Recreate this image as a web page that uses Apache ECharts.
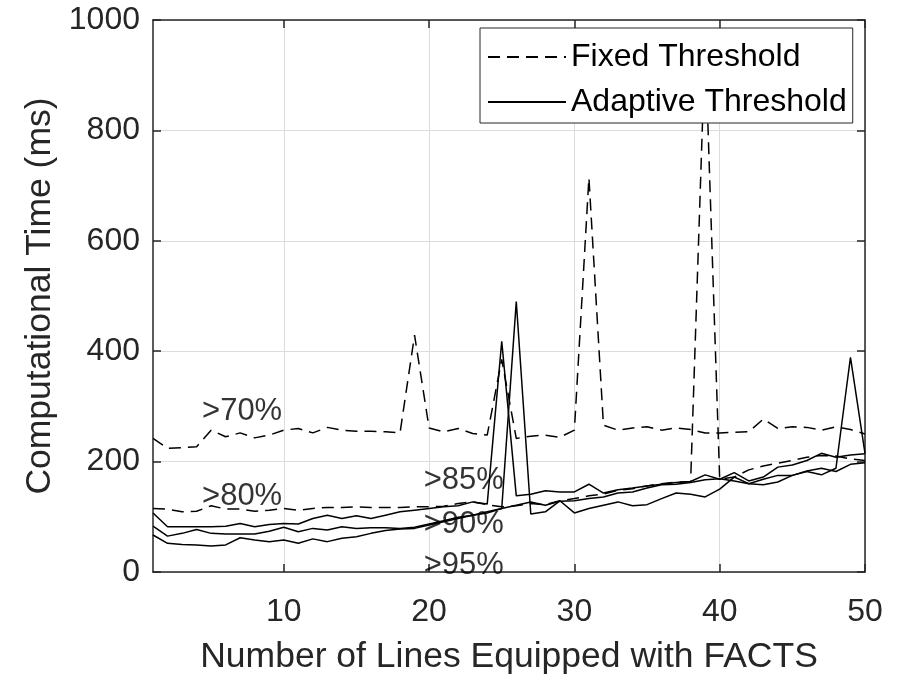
<!DOCTYPE html>
<html><head><meta charset="utf-8">
<script src="https://cdn.jsdelivr.net/npm/echarts@6/dist/echarts.min.js"></script>
<style>html,body{margin:0;padding:0;background:#fff}#c{width:897px;height:674px}</style>
</head><body><div id="c"></div>
<script>
const linesEquipped = [1,2,3,4,5,6,7,8,9,10,11,12,13,14,15,16,17,18,19,20,21,22,23,24,25,26,27,28,29,30,31,32,33,34,35,36,37,38,39,40,41,42,43,44,45,46,47,48,49,50];
const fixed70 = [242,224,225,227,257,245,252,243,248,257,260,252,262,257,255,255,254,252,429,261,254,260,251,248,385,242,246,248,244,257,714,266,257,261,263,257,261,258,252,252,253,254,277,260,263,262,257,263,258,250];
const fixed80 = [115,114,109,110,120,114,114,110,112,115,112,115,117,117,118,117,117,117,118,118,119,124,127,122,118,120,124,122,129,133,138,141,148,151,156,160,163,164,960,168,172,185,192,197,202,208,211,210,205,202];
const adaptive85 = [107,82,82,82,82,83,88,82,86,88,87,97,103,97,102,97,103,109,112,115,118,120,127,123,418,138,141,147,145,145,159,143,149,152,156,159,162,164,176,168,180,165,172,190,194,202,215,208,212,214];
const adaptive90 = [83,65,70,77,70,69,69,69,74,81,73,79,76,82,79,80,80,79,81,87,93,99,103,107,115,121,127,121,128,129,133,136,143,145,152,158,159,162,167,169,165,160,158,163,175,183,188,182,195,198];
const adaptive95 = [67,52,50,49,47,49,62,58,55,58,52,60,55,61,64,70,75,78,79,85,91,97,103,109,115,490,105,109,129,107,115,121,127,120,122,133,143,141,136,150,172,160,168,175,175,182,176,188,389,215];
const xTicks = [10,20,30,40,50];
const yTicks = [0,200,400,600,800,1000];
const noteTexts = ['>70%','>80%','>85%','>90%','>95%'];
const noteX = [4.34,4.34,19.6,19.6,19.6];
const noteY = [290,136,166,86,12];

const FONT = 'Liberation Sans, Arial, sans-serif';
const INK = '#262626';
const pair = arr => arr.map((v,i)=>[linesEquipped[i], v]);
const dashed = {color:'#000', width:1.5, type:[12,7]};
const solid = {color:'#000', width:1.5, type:'solid'};
function mk(name, arr, ls){
  return {name, type:'line', data:pair(arr), symbol:'none', showSymbol:false,
    lineStyle:ls, itemStyle:{color:'#000'}, z:3, clip:true};
}
const chart = echarts.init(document.getElementById('c'), null, {renderer:'canvas'});
const axisCommonX = {type:'value', min:1, max:50};
chart.setOption({
  animation:false,
  backgroundColor:'#fff',
  grid:{left:153, right:32, top:20, bottom:102, containLabel:false, outerBoundsMode:'none'},
  xAxis:[
    Object.assign({}, axisCommonX, {position:'bottom',
      name:'Number of Lines Equipped with FACTS', nameLocation:'middle', nameGap:67,
      nameTextStyle:{fontSize:35.5, color:INK, fontFamily:FONT},
      axisLine:{show:true, onZero:false, lineStyle:{color:INK, width:1.5}},
      axisTick:{show:true, inside:true, length:8, lineStyle:{color:INK, width:1.5}, customValues:xTicks},
      axisLabel:{show:true, fontSize:32, color:INK, fontFamily:FONT, margin:24, customValues:xTicks,
        formatter:v=>String(v)},
      splitLine:{show:true, lineStyle:{color:'#dcdcdc', width:1}}}),
    Object.assign({}, axisCommonX, {position:'top',
      axisLine:{show:true, onZero:false, lineStyle:{color:INK, width:1.5}},
      axisTick:{show:true, inside:true, length:8, lineStyle:{color:INK, width:1.5}, customValues:xTicks},
      axisLabel:{show:false, customValues:xTicks},
      splitLine:{show:false}})
  ],
  yAxis:[
    {type:'value', min:yTicks[0], max:yTicks[yTicks.length-1], interval:200, position:'left',
      name:'Computational Time (ms)', nameLocation:'middle', nameGap:95,
      nameTextStyle:{fontSize:35.5, color:INK, fontFamily:FONT},
      axisLine:{show:true, onZero:false, lineStyle:{color:INK, width:1.5}},
      axisTick:{show:true, inside:true, length:8, lineStyle:{color:INK, width:1.5}},
      axisLabel:{show:true, fontSize:32, color:INK, fontFamily:FONT, margin:13, formatter:v=>String(v)},
      splitLine:{show:true, lineStyle:{color:'#dcdcdc', width:1}}},
    {type:'value', min:yTicks[0], max:yTicks[yTicks.length-1], interval:200, position:'right',
      axisLine:{show:true, onZero:false, lineStyle:{color:INK, width:1.5}},
      axisTick:{show:true, inside:true, length:8, lineStyle:{color:INK, width:1.5}},
      axisLabel:{show:false}, splitLine:{show:false}}
  ],
  legend:{data:['Fixed Threshold','Adaptive Threshold'], orient:'vertical', left:480, top:28,
    itemWidth:78, itemHeight:14, itemGap:13, padding:[13,6,5,7],
    itemStyle:{color:'rgba(0,0,0,0)', borderWidth:0, opacity:0},
    backgroundColor:'#fff', borderColor:INK, borderWidth:1, borderRadius:0,
    textStyle:{fontSize:32, color:'#000', fontFamily:FONT}, z:10},
  series:[
    mk('Fixed Threshold', fixed70, dashed),
    mk('Fixed Threshold', fixed80, dashed),
    mk('Adaptive Threshold', adaptive85, solid),
    mk('Adaptive Threshold', adaptive90, solid),
    mk('Adaptive Threshold', adaptive95, solid),
    {name:'notes', type:'scatter', symbolSize:1, itemStyle:{color:'rgba(0,0,0,0)'}, z:5, silent:true,
      data:noteTexts.map((t,i)=>[noteX[i], noteY[i], t]),
      label:{show:true, position:'right', distance:0, formatter:p=>p.data[2],
        fontSize:31, color:'#000', fontFamily:FONT}}
  ]
});
</script></body></html>
